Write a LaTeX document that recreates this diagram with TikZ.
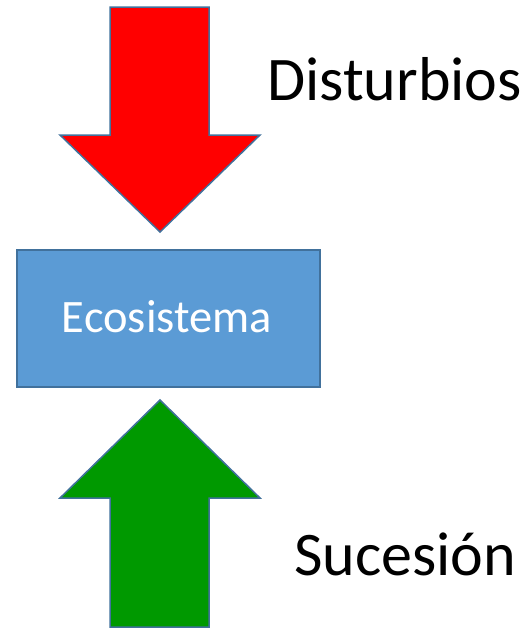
\documentclass[tikz,border=0pt]{standalone}
\usepackage{fontspec}
\setmainfont{Carlito}
\definecolor{outl}{HTML}{41719C}
\definecolor{boxfill}{HTML}{5B9BD5}
\definecolor{arrred}{HTML}{FF0000}
\definecolor{arrgreen}{HTML}{009900}
\begin{document}
\begin{tikzpicture}[x=1pt,y=-1pt,
  shape outline/.style={draw=outl,line width=1.5pt,line join=miter},
  biglabel/.style={font=\fontsize{62}{72}\selectfont,inner sep=0pt,anchor=base west}]
\useasboundingbox (0,0) rectangle (531,630);
% red arrow
\draw[shape outline,fill=arrred] (110,7) -- (209,7) -- (209,135) -- (260,135) -- (160,232) -- (60,135) -- (110,135) -- cycle;
% box
\node[shape outline,fill=boxfill,minimum width=303pt,minimum height=137pt,anchor=north west,inner sep=0pt] (eco) at (16,249) {};
\node[font=\fontsize{46.5}{54}\selectfont,text=white,inner sep=0pt,anchor=base] (ecotext) at (167,332) {Ecosistema};
% green arrow
\draw[shape outline,fill=arrgreen] (160,400) -- (260,498) -- (209,498) -- (209,627) -- (110,627) -- (110,498) -- (60,498) -- cycle;
\node[biglabel] (dist) at (267,100) {Disturbios};
\node[biglabel] (suc) at (294,575) {Sucesión};
\end{tikzpicture}
\end{document}
